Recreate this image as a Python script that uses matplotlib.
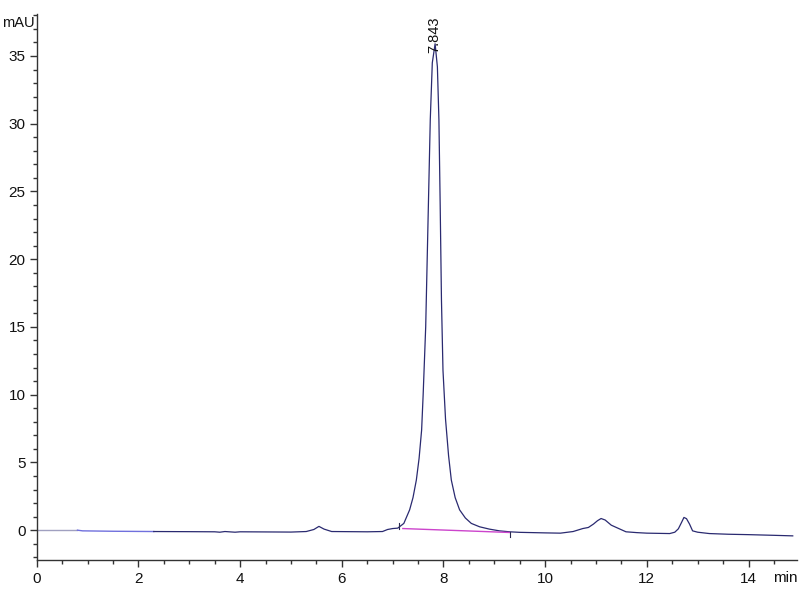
import matplotlib
matplotlib.use("Agg")
import matplotlib.pyplot as plt
from matplotlib.ticker import MultipleLocator

plt.rcParams['font.family'] = ['Liberation Sans Narrow', 'Liberation Sans', 'DejaVu Sans']

# chromatogram trace (time in min, signal in mAU)
time_min = [0.00, 0.50, 0.80, 0.90, 1.50, 2.30, 3.00, 3.50, 3.60, 3.70, 3.90, 4.00, 4.50,
            5.00, 5.30, 5.45, 5.55, 5.65, 5.80, 6.50, 6.80, 6.90, 7.00, 7.10, 7.22,
            7.334, 7.40, 7.466, 7.52, 7.57, 7.60, 7.65, 7.70, 7.74, 7.78, 7.835,
            7.88, 7.91, 7.935, 7.96, 7.99, 8.04, 8.10, 8.154, 8.23, 8.317, 8.43,
            8.547, 8.71, 8.90, 9.10, 9.30, 9.50, 10.00, 10.30, 10.55, 10.74, 10.85,
            10.95, 11.03, 11.10, 11.18, 11.30, 11.40, 11.59, 11.80, 12.00, 12.45,
            12.55, 12.62, 12.68, 12.73, 12.78, 12.84, 12.90, 13.00, 13.23, 13.60,
            14.00, 14.50, 14.87]
signal_mau = [0.00, 0.00, 0.00, -0.05, -0.08, -0.10, -0.11, -0.12, -0.15, -0.10, -0.15, -0.12, -0.13,
              -0.14, -0.10, 0.05, 0.28, 0.08, -0.10, -0.12, -0.10, 0.05, 0.12, 0.15, 0.50,
              1.50, 2.40, 3.70, 5.30, 7.40, 10.00, 15.00, 23.50, 30.30, 34.50, 35.90,
              34.20, 30.30, 24.00, 17.00, 11.80, 8.20, 5.50, 3.70, 2.40, 1.50, 0.90,
              0.50, 0.25, 0.08, -0.05, -0.12, -0.16, -0.20, -0.22, -0.10, 0.12, 0.20,
              0.45, 0.70, 0.86, 0.75, 0.37, 0.20, -0.12, -0.18, -0.22, -0.25,
              -0.15, 0.10, 0.55, 0.94, 0.85, 0.45, -0.05, -0.15, -0.25, -0.30,
              -0.33, -0.38, -0.42]

# integration baseline of the main peak
base_t = [7.20, 9.30]
base_y = [0.12, -0.17]
peak_label = "7.843"
peak_t = 7.843
peak_y = 35.9

fig = plt.figure(figsize=(8, 6), dpi=100)
ax = fig.add_axes([0.046, 0.0667, 0.95, 0.91])

split = 3
light = 6
ax.plot(time_min[:split], signal_mau[:split], color='#a0a0c0', lw=1.0)
ax.plot(time_min[split - 1:light], signal_mau[split - 1:light], color='#7070dd', lw=1.0)
ax.plot(time_min[light - 1:], signal_mau[light - 1:], color='#2a2a70', lw=0.9)
ax.plot(base_t, base_y, color='#cc44cc', lw=1.0)
# integration event marks
ax.plot([7.12, 7.12], [0.12, 0.5], color='#2a2a50', lw=0.8)
ax.plot([9.31, 9.31], [-0.12, -0.54], color='#2a2a50', lw=0.8)

ax.text(peak_t - 0.02, 35.2, peak_label, rotation=90, ha='center', va='bottom',
        fontsize=10.5, color='#111111')

ax.set_xlim(0, 14.95)
ax.set_ylim(-2.2, 38.1)
ax.xaxis.set_major_locator(MultipleLocator(2))
ax.xaxis.set_minor_locator(MultipleLocator(0.5))
ax.yaxis.set_major_locator(MultipleLocator(5))
ax.yaxis.set_minor_locator(MultipleLocator(1))
for s in ['top', 'right']:
    ax.spines[s].set_visible(False)
for s in ['left', 'bottom']:
    ax.spines[s].set_color('#333333')
    ax.spines[s].set_linewidth(1.0)
ax.tick_params(which='major', length=5, width=1, color='#333333', labelsize=11, labelcolor='#111111')
ax.tick_params(which='minor', length=3, width=1, color='#333333')
ax.tick_params(axis='x', pad=4)
ax.tick_params(axis='y', pad=3)

fig.text(0.003, 0.962, "mAU", ha='left', va='center', fontsize=10.5, color='#111111')
fig.text(0.982, 0.037, "min", ha='center', va='center', fontsize=11, color='#111111')

fig.savefig("out.png", dpi=100)
